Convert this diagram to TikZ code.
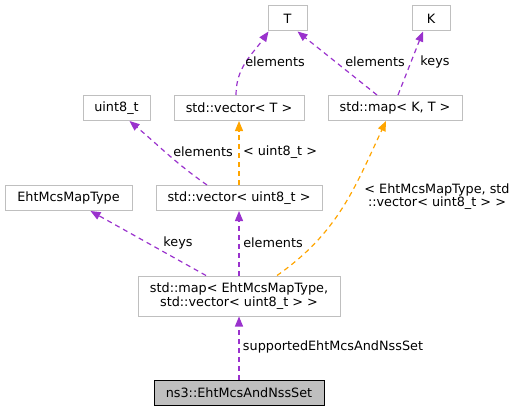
\documentclass[tikz,border=0pt]{standalone}
\usepackage{fontspec}
\setmainfont{DejaVu Sans}
\definecolor{edgepurple}{RGB}{154, 50, 205}
\definecolor{edgeorange}{RGB}{255, 165, 0}
\definecolor{boxgray}{RGB}{191, 191, 191}
\usetikzlibrary{arrows.meta, positioning}

\begin{document}
\begin{tikzpicture}[x=1pt, y=-1pt,
    classbox/.style={draw=boxgray, fill=white, line width=1pt, inner sep=0pt,
      minimum height=25pt, align=center, font=\fontsize{12.8pt}{13.5pt}\selectfont},
    mainbox/.style={classbox, draw=black, fill=boxgray},
    member/.style={edgepurple, line width=1.2pt,
      dash pattern=on 5pt off 4pt, -{Triangle[length=10pt, width=8pt]}},
    templ/.style={member, edgeorange},
    lbl/.style={font=\fontsize{12.8pt}{13pt}\selectfont, inner sep=0pt, align=center}]
  \useasboundingbox (0,0) rectangle (518,412);

  % Top row
  \node[classbox, minimum width=39pt] (T) at (287.5,18.5) {T};
  \node[classbox, minimum width=38pt] (K) at (431,18.5) {K};

  % Second row
  \node[classbox, minimum width=67pt] (uint) at (116.5,108) {uint8\_t};
  \node[classbox, minimum width=130pt] (vecT) at (239,108) {std::vector< T >};
  \node[classbox, minimum width=134pt] (mapKT) at (395,108) {std::map< K, T >};

  % Third row
  \node[classbox, minimum width=127pt] (eht) at (68.5,198) {EhtMcsMapType};
  \node[classbox, minimum width=166pt] (vecU) at (239,198) {std::vector< uint8\_t >};

  % Map and class
  \node[classbox, minimum width=202pt, minimum height=40pt] (mapE) at (239,296)
    {std::map< EhtMcsMapType,\\ std::vector< uint8\_t > >};
  \node[mainbox, minimum width=170pt] (ns3) at (239,392.5) {ns3::EhtMcsAndNssSet};

  % Edges
  \draw[member] ([xshift=-3pt]vecT.north) to[out=90, in=-125] ([xshift=1pt]T.south west);
  \draw[member] ([xshift=-18pt]mapKT.north) -- ([xshift=10pt]T.south);
  \draw[member] ([xshift=3pt]mapKT.north) -- ([xshift=-8pt]K.south);
  \draw[member] ([xshift=-32pt]vecU.north) to[out=145, in=-40] ([xshift=13pt]uint.south);
  \draw[templ] (vecU.north) -- (vecT.south);
  \draw[templ] ([xshift=38pt]mapE.north) to[out=35, in=-115] ([xshift=-9pt]mapKT.south);
  \draw[member] ([xshift=-33pt]mapE.north) -- ([xshift=22pt]eht.south);
  \draw[member] (mapE.north) -- (vecU.south);
  \draw[member] (ns3.north) -- (mapE.south);

  % Edge labels
  \node[lbl] (l1) at (275,62) {elements};
  \node[lbl] (l2) at (375,62) {elements};
  \node[lbl] (l3) at (435,62) {keys};
  \node[lbl] (l4) at (203,152) {elements};
  \node[lbl] (l5) at (280,152) {< uint8\_t >};
  \node[lbl] (l6) at (437,197) {< EhtMcsMapType, std\\::vector< uint8\_t > >};
  \node[lbl] (l7) at (178,243) {keys};
  \node[lbl] (l8) at (273,243) {elements};
  \node[lbl] (l9) at (333,347) {supportedEhtMcsAndNssSet};
\end{tikzpicture}
\end{document}
